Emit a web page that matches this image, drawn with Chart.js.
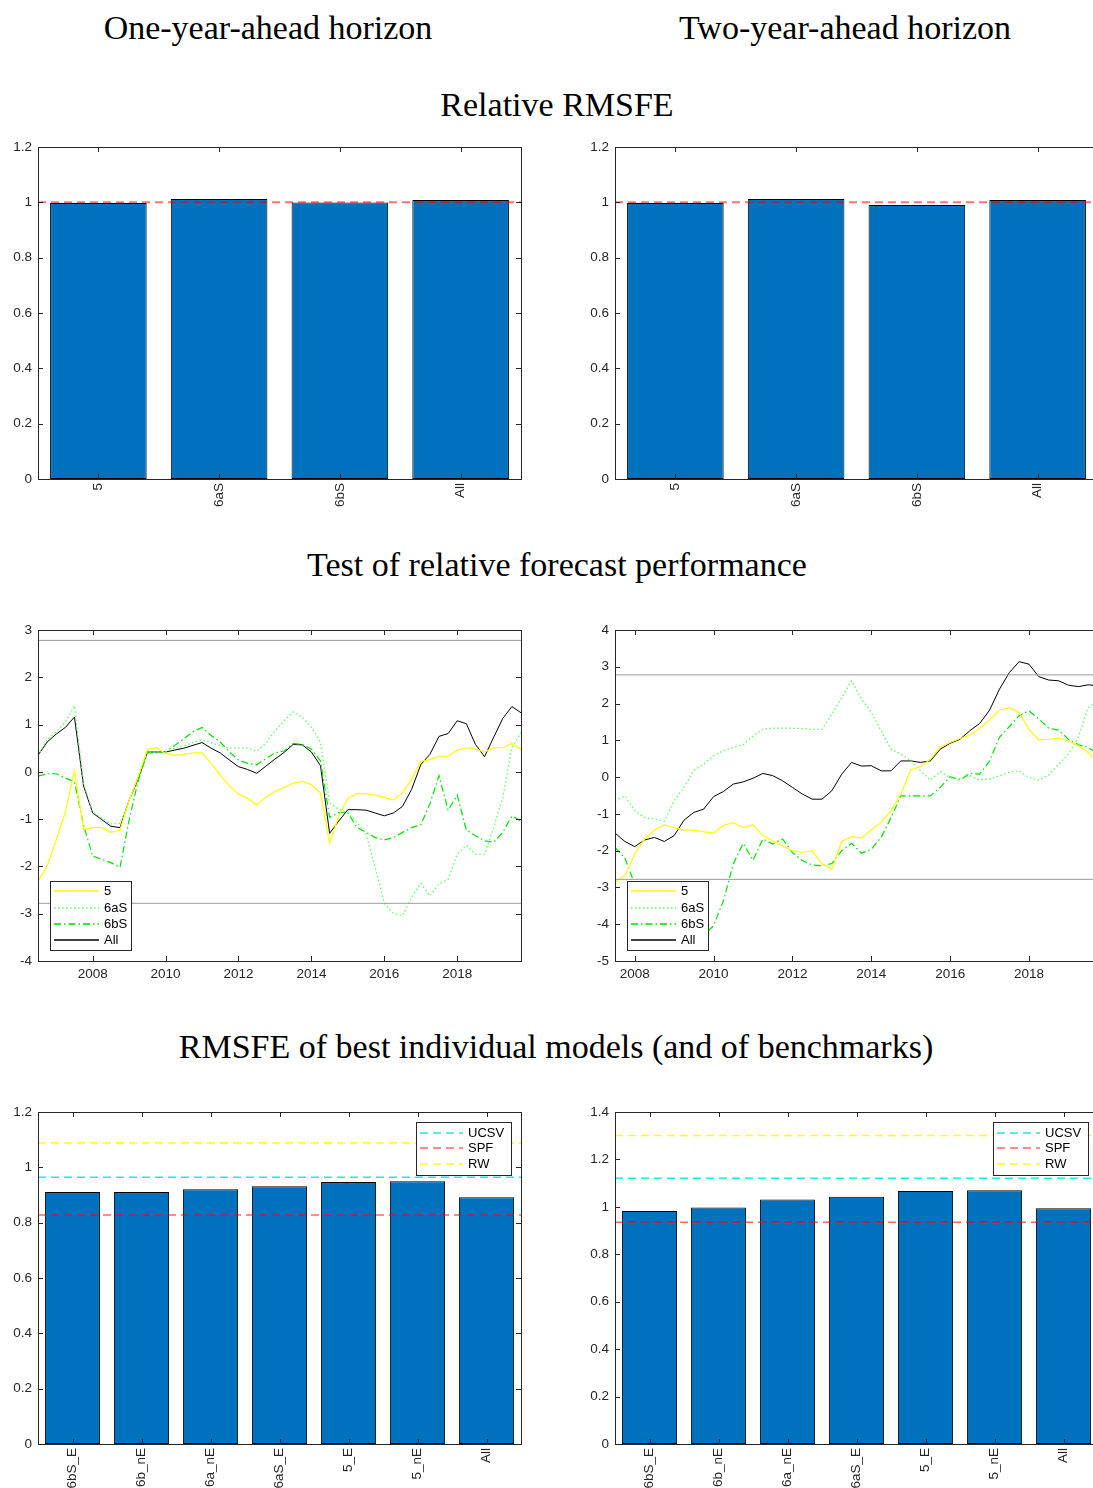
<!DOCTYPE html>
<html>
  <head>
    <title>Forecast evaluation</title>
    <script src="https://cdn.jsdelivr.net/npm/chart.js@4.4.0/dist/chart.umd.min.js"></script>
    <style>
      html, body { margin: 0; padding: 0; overflow: hidden; background: #fff; }
      body { width: 1093px; height: 1488px; position: relative; }
      .title {
        position: absolute;
        font-family: 'Liberation Serif', 'Times New Roman', serif;
        font-size: 34px;
        line-height: 1;
        white-space: nowrap;
        color: #000;
        transform: translate(-50%, -50%);
      }
      canvas { position: absolute; }
    </style>
  </head>

  <body>
    <div class="title" style="left: 268px; top: 28px">One-year-ahead horizon</div>
    <div class="title" style="left: 845px; top: 28px">Two-year-ahead horizon</div>
    <div class="title" style="left: 557px; top: 105px">Relative RMSFE</div>
    <div class="title" style="left: 557px; top: 565px">Test of relative forecast performance</div>
    <div class="title" style="left: 556px; top: 1047px">RMSFE of best individual models (and of benchmarks)</div>

    <canvas id="rmsfe1" width="531" height="382" style="left: 0; top: 137px"></canvas>
    <canvas id="rmsfe2" width="531" height="382" style="left: 577px; top: 137px"></canvas>
    <canvas id="test1" width="531" height="371" style="left: 0; top: 620px"></canvas>
    <canvas id="test2" width="531" height="371" style="left: 577px; top: 620px"></canvas>
    <canvas id="best1" width="531" height="386" style="left: 0; top: 1102px"></canvas>
    <canvas id="best2" width="531" height="386" style="left: 577px; top: 1102px"></canvas>

    <script>
      // top row: relative RMSFE of the combinations
      const modelSets = ['5', '6aS', '6bS', 'All'];
      const relRmsfeH1 = [0.998, 1.012, 0.999, 1.008];
      const relRmsfeH2 = [0.998, 1.012, 0.99, 1.008];
      const rmsfeTicks = [0, 0.2, 0.4, 0.6, 0.8, 1, 1.2];

      // middle row: test statistics, quarterly
      const startH1 = 2006.5;
      const stat5H1 = [-2.31, -1.99, -1.44, -0.85, 0.02, -1.22, -1.18, -1.18, -1.28, -1.23,
        -0.6, -0.1, 0.47, 0.51, 0.39, 0.35, 0.37, 0.4, 0.4, 0.18,
        -0.07, -0.3, -0.47, -0.56, -0.7, -0.53, -0.41, -0.33, -0.24, -0.2,
        -0.27, -0.45, -1.51, -0.93, -0.56, -0.46, -0.46, -0.49, -0.54, -0.59,
        -0.44, -0.15, 0.22, 0.26, 0.33, 0.33, 0.46, 0.51, 0.48, 0.42,
        0.51, 0.51, 0.6, 0.48];
      const stat6aSH1 = [0.35, 0.68, 0.85, 1.05, 1.4, -0.25, -0.85, -0.98, -1.1, -1.09,
        -0.6, -0.1, 0.42, 0.42, 0.42, 0.5, 0.55, 0.62, 0.68, 0.62,
        0.55, 0.5, 0.5, 0.5, 0.44, 0.6, 0.87, 1.08, 1.27, 1.15,
        0.94, 0.62, -0.65, -0.79, -0.87, -1.07, -1.32, -2.02, -2.78, -2.99,
        -3.04, -2.65, -2.36, -2.62, -2.37, -2.27, -1.74, -1.56, -1.74, -1.74,
        -1.18, -0.54, 0.51, 0.83];
      const stat6bSH1 = [-0.09, -0.04, -0.04, -0.13, -0.21, -1.13, -1.78, -1.85, -1.92, -2.02,
        -1.02, -0.18, 0.4, 0.4, 0.42, 0.56, 0.7, 0.85, 0.94, 0.77,
        0.63, 0.42, 0.25, 0.18, 0.15, 0.28, 0.4, 0.44, 0.6, 0.58,
        0.48, 0.23, -0.96, -0.86, -0.86, -1.18, -1.28, -1.39, -1.44, -1.39,
        -1.28, -1.18, -1.12, -0.68, -0.08, -0.81, -0.49, -1.23, -1.35, -1.46,
        -1.49, -1.28, -0.93, -1.04];
      const statAllH1 = [0.35, 0.63, 0.8, 0.94, 1.16, -0.3, -0.87, -1.01, -1.15, -1.18,
        -0.6, -0.15, 0.42, 0.42, 0.42, 0.46, 0.5, 0.56, 0.62, 0.5,
        0.4, 0.25, 0.11, 0.05, -0.03, 0.12, 0.27, 0.41, 0.58, 0.57,
        0.42, 0.13, -1.3, -1.04, -0.8, -0.8, -0.81, -0.87, -0.93, -0.87,
        -0.73, -0.37, 0.15, 0.37, 0.75, 0.81, 1.08, 1.02, 0.58, 0.32,
        0.73, 1.13, 1.38, 1.25];

      const startH2 = 2007.5;
      const stat5H2 = [-2.86, -2.68, -2.09, -1.68, -1.44, -1.3, -1.37, -1.44, -1.44, -1.49,
        -1.52, -1.31, -1.24, -1.37, -1.3, -1.59, -1.73, -1.87, -2.0, -2.05,
        -2.0, -2.36, -2.5, -1.75, -1.62, -1.66, -1.44, -1.23, -0.91, -0.46,
        0.2, 0.28, 0.49, 0.81, 0.94, 1.05, 1.14, 1.33, 1.56, 1.82,
        1.89, 1.76, 1.3, 1.01, 1.03, 1.06, 0.99, 0.85, 0.67, 0.4];
      const stat6aSH2 = [-0.64, -0.51, -0.91, -1.1, -1.14, -1.2, -0.64, -0.28, 0.19, 0.35,
        0.58, 0.72, 0.81, 0.88, 1.12, 1.3, 1.33, 1.33, 1.33, 1.32,
        1.3, 1.3, 1.71, 2.16, 2.62, 2.12, 1.76, 1.26, 0.76, 0.63,
        0.44, 0.17, -0.08, 0.15, -0.01, -0.05, 0.04, -0.08, -0.05, 0.04,
        0.13, 0.17, -0.01, -0.08, 0.06, 0.35, 0.63, 1.08, 1.89, 2.07];
      const stat6bSH2 = [-1.91, -2.2, -2.91, -3.45, -3.85, -4.1, -4.3, -4.4, -4.4, -4.3,
        -4.04, -3.36, -2.36, -1.8, -2.26, -1.68, -1.82, -1.68, -2.05, -2.27,
        -2.39, -2.41, -2.35, -2.0, -1.8, -2.07, -1.96, -1.64, -1.1, -0.51,
        -0.51, -0.51, -0.51, -0.28, 0.01, -0.08, 0.1, 0.08, 0.44, 1.08,
        1.37, 1.67, 1.8, 1.58, 1.33, 1.28, 1.03, 0.88, 0.81, 0.64];
      const statAllH2 = [-1.52, -1.75, -1.89, -1.71, -1.64, -1.75, -1.59, -1.17, -0.96, -0.87,
        -0.53, -0.39, -0.19, -0.13, -0.03, 0.1, 0.04, -0.1, -0.28, -0.46,
        -0.6, -0.6, -0.37, 0.08, 0.4, 0.3, 0.31, 0.17, 0.17, 0.44,
        0.44, 0.4, 0.44, 0.76, 0.92, 1.03, 1.26, 1.46, 1.82, 2.39,
        2.84, 3.14, 3.07, 2.73, 2.64, 2.62, 2.5, 2.46, 2.51, 2.48];

      const critValue = 2.78;
      const yearTicks = [2008, 2010, 2012, 2014, 2016, 2018];
      const testTicksH1 = [-4, -3, -2, -1, 0, 1, 2, 3];
      const testTicksH2 = [-5, -4, -3, -2, -1, 0, 1, 2, 3, 4];

      // bottom row: best individual models and benchmarks
      const bestModels = ['6bS_E', '6b_nE', '6a_nE', '6aS_E', '5_E', '5_nE', 'All'];
      const bestRmsfeH1 = [0.911, 0.911, 0.921, 0.932, 0.947, 0.95, 0.892];
      const bestRmsfeH2 = [0.983, 0.997, 1.031, 1.043, 1.067, 1.07, 0.994];
      const benchNames = ['UCSV', 'SPF', 'RW'];
      const benchH1 = [0.964, 0.828, 1.088];
      const benchH2 = [1.121, 0.935, 1.301];
      const bestTicksH2 = [0, 0.2, 0.4, 0.6, 0.8, 1, 1.2, 1.4];

      const benchColors = ['rgba(0, 225, 225, 0.85)', 'rgba(255, 0, 0, 0.6)', 'rgba(255, 255, 0, 0.9)'];
      const tickFont = '"Liberation Sans", Arial, sans-serif';

      Chart.defaults.font.family = tickFont;
      Chart.defaults.font.size = 13.5;
      Chart.defaults.color = '#262626';

      // matlab-like box with inward ticks on all four sides
      const axesBox = {
        id: 'axesBox',
        afterDraw(chart) {
          const ctx = chart.ctx;
          const a = chart.chartArea;
          const xs = chart.scales.x;
          const ys = chart.scales.y;
          ctx.save();
          ctx.strokeStyle = '#262626';
          ctx.lineWidth = 1;
          ctx.beginPath();
          xs.ticks.forEach((t, i) => {
            const px = Math.round(xs.getPixelForTick(i)) + 0.5;
            ctx.moveTo(px, a.bottom);
            ctx.lineTo(px, a.bottom - 5);
            ctx.moveTo(px, a.top);
            ctx.lineTo(px, a.top + 5);
          });
          ys.ticks.forEach((t, i) => {
            const py = Math.round(ys.getPixelForTick(i)) + 0.5;
            ctx.moveTo(a.left, py);
            ctx.lineTo(a.left + 5, py);
            ctx.moveTo(a.right, py);
            ctx.lineTo(a.right - 5, py);
          });
          ctx.stroke();
          ctx.strokeRect(Math.round(a.left) + 0.5, Math.round(a.top) + 0.5, Math.round(a.width), Math.round(a.height));
          ctx.restore();
        },
      };

      // legend drawn inside the axes, like matlab's
      const boxLegend = {
        id: 'boxLegend',
        afterDatasetsDraw(chart, args, o) {
          if (!o || !o.corner) return;
          const items = chart.data.datasets.filter((d) => d.inLegend);
          const ctx = chart.ctx;
          const a = chart.chartArea;
          const h = items.length * o.rowHeight + o.padY * 2;
          const x0 = o.corner === 'ne' ? a.right - o.marginX - o.width : a.left + o.marginX;
          const y0 = o.corner === 'ne' ? a.top + o.marginY : a.bottom - o.marginY - h;
          ctx.save();
          ctx.fillStyle = '#fff';
          ctx.fillRect(x0, y0, o.width, h);
          ctx.strokeStyle = '#262626';
          ctx.lineWidth = 1;
          ctx.strokeRect(Math.round(x0) + 0.5, Math.round(y0) + 0.5, o.width, Math.round(h));
          ctx.font = '13px ' + tickFont;
          ctx.textBaseline = 'middle';
          items.forEach((d, i) => {
            const y = Math.round(y0 + o.padY + o.rowHeight * (i + 0.5));
            ctx.beginPath();
            ctx.setLineDash(d.borderDash || []);
            ctx.strokeStyle = d.borderColor;
            ctx.lineWidth = Math.max(d.borderWidth, 1.3);
            ctx.moveTo(x0 + 4, y);
            ctx.lineTo(x0 + 4 + o.lineLen, y);
            ctx.stroke();
            ctx.setLineDash([]);
            ctx.fillStyle = '#000';
            ctx.fillText(d.label, x0 + 4 + o.lineLen + 5, y);
          });
          ctx.restore();
        },
      };

      function fixedTicks(values) {
        return (scale) => {
          scale.ticks = values.map((v) => ({ value: v }));
        };
      }

      // fixed axis sizes so every panel lines up with its neighbour
      const yFit = (s) => {
        s.width = 38;
        s.paddingTop = 0;
        s.paddingBottom = 0;
      };
      const xFit = (h) => (s) => {
        s.height = h;
        s.paddingLeft = 0;
        s.paddingRight = 0;
      };

      function barChart(id, labels, values, ticks, refs, xHeight, legend) {
        const refSets = refs.map((r) => ({
          type: 'line',
          label: r.label,
          xAxisID: 'xr',
          data: [{ x: 0, y: r.value }, { x: 1, y: r.value }],
          borderColor: r.color,
          borderWidth: r.width,
          borderDash: [8, 5],
          pointRadius: 0,
          inLegend: !!legend,
          order: 0,
        }));
        return new Chart(document.getElementById(id), {
          type: 'bar',
          data: {
            labels: labels,
            datasets: refSets.concat([
              {
                data: values,
                backgroundColor: '#0072BD',
                borderColor: '#000',
                borderWidth: 1,
                borderSkipped: false,
                grouped: false,
                categoryPercentage: 1,
                barPercentage: 0.8,
                order: 1,
              },
            ]),
          },
          options: {
            responsive: false,
            animation: false,
            events: [],
            layout: { padding: { top: 10, right: 10, left: 0, bottom: 0 } },
            plugins: { legend: { display: false }, tooltip: { enabled: false }, boxLegend: legend || {} },
            scales: {
              x: {
                grid: { display: false, drawTicks: false },
                border: { display: false },
                ticks: { minRotation: 90, maxRotation: 90, autoSkip: false, padding: 4 },
                afterFit: xFit(xHeight),
              },
              xr: { type: 'linear', display: false, offset: false, min: 0, max: 1 },
              y: {
                min: 0,
                max: ticks[ticks.length - 1],
                grid: { display: false, drawTicks: false },
                border: { display: false },
                afterBuildTicks: fixedTicks(ticks),
                ticks: { padding: 6, callback: (v) => String(+v.toFixed(1)) },
                afterFit: yFit,
              },
            },
          },
          plugins: [axesBox, boxLegend],
        });
      }

      function testChart(id, start, end, series, ticks) {
        const pts = (vals) => vals.map((v, i) => ({ x: start + i / 4, y: v }));
        const bound = (v) => ({
          data: [{ x: start, y: v }, { x: end, y: v }],
          borderColor: '#9a9a9a',
          borderWidth: 1,
          pointRadius: 0,
        });
        return new Chart(document.getElementById(id), {
          type: 'line',
          data: {
            datasets: [
              bound(critValue),
              bound(-critValue),
              { label: '5', data: pts(series[0]), borderColor: '#ffff00', borderWidth: 1.2, inLegend: true },
              { label: '6aS', data: pts(series[1]), borderColor: 'rgb(95, 250, 95)', borderWidth: 1.3, borderDash: [1.5, 2.5], inLegend: true },
              { label: '6bS', data: pts(series[2]), borderColor: 'rgb(0, 225, 0)', borderWidth: 1.2, borderDash: [7, 3, 1.5, 3], inLegend: true },
              { label: 'All', data: pts(series[3]), borderColor: '#000', borderWidth: 1, inLegend: true },
            ].map((d) => Object.assign({ pointRadius: 0, tension: 0 }, d)),
          },
          options: {
            responsive: false,
            animation: false,
            events: [],
            layout: { padding: { top: 10, right: 10, left: 0, bottom: 0 } },
            plugins: {
              legend: { display: false },
              tooltip: { enabled: false },
              boxLegend: { corner: 'sw', marginX: 12, marginY: 11, width: 81, rowHeight: 16.4, padY: 1.5, lineLen: 45 },
            },
            scales: {
              x: {
                type: 'linear',
                min: start,
                max: end,
                grid: { display: false, drawTicks: false },
                border: { display: false },
                afterBuildTicks: fixedTicks(yearTicks),
                ticks: { padding: 5, maxRotation: 0, callback: (v) => String(v) },
                afterFit: xFit(30),
              },
              y: {
                min: ticks[0],
                max: ticks[ticks.length - 1],
                grid: { display: false, drawTicks: false },
                border: { display: false },
                afterBuildTicks: fixedTicks(ticks),
                ticks: { padding: 6, callback: (v) => String(v) },
                afterFit: yFit,
              },
            },
          },
          plugins: [axesBox, boxLegend],
        });
      }

      const topRef = [{ label: '', value: 1, color: 'rgba(255, 0, 0, 0.55)', width: 2 }];
      barChart('rmsfe1', modelSets, relRmsfeH1, rmsfeTicks, topRef, 40, null);
      barChart('rmsfe2', modelSets, relRmsfeH2, rmsfeTicks, topRef, 40, null);

      testChart('test1', startH1, 2019.75, [stat5H1, stat6aSH1, stat6bSH1, statAllH1], testTicksH1);
      testChart('test2', startH2, 2019.75, [stat5H2, stat6aSH2, stat6bSH2, statAllH2], testTicksH2);

      const benchRefs = (vals) => benchNames.map((n, i) => ({ label: n, value: vals[i], color: benchColors[i], width: 1.5 }));
      const benchLegend = { corner: 'ne', marginX: 10, marginY: 10, width: 95, rowHeight: 15.6, padY: 3, lineLen: 43 };
      barChart('best1', bestModels, bestRmsfeH1, rmsfeTicks, benchRefs(benchH1), 44, benchLegend);
      barChart('best2', bestModels, bestRmsfeH2, bestTicksH2, benchRefs(benchH2), 44, benchLegend);
    </script>
  </body>
</html>
